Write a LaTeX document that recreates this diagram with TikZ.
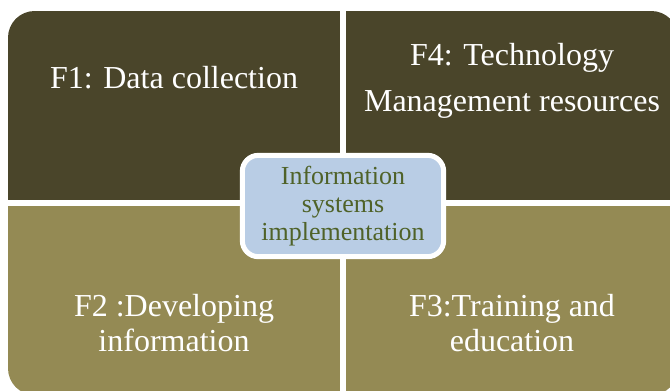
\documentclass[tikz,border=0pt]{standalone}
\usepackage{fontspec}
\setmainfont{Liberation Serif}
\definecolor{darkolive}{HTML}{4A452A}
\definecolor{lightolive}{HTML}{948A54}
\definecolor{hubblue}{HTML}{B9CDE5}
\definecolor{hubgreen}{HTML}{4F6228}
\begin{document}
\begin{tikzpicture}[x=0.75pt, y=-0.75pt,
    facet/.style={text=white, align=center, font=\fontsize{24}{34.5}\selectfont},
    facetlow/.style={facet, font=\fontsize{24}{26}\selectfont},
    hub/.style={draw=white, line width=3.75pt, fill=hubblue, rounded corners=12pt,
        minimum width=151pt, minimum height=76pt, inner sep=0pt, align=center,
        text=hubgreen, font=\fontsize{19.5}{21}\selectfont}]
    \useasboundingbox (0,0) rectangle (670,390);

    % the four parts, cut by white gaps
    \begin{scope}
        \clip[rounded corners=20pt] (8,11) rectangle (678,395);
        \fill[darkolive] (8,11) rectangle (340,200);
        \fill[darkolive] (346,11) rectangle (678,200);
        \fill[lightolive] (8,206) rectangle (340,395);
        \fill[lightolive] (346,206) rectangle (678,395);
    \end{scope}

    \node[facet] (f1) at (174,78) {F1: Data collection};
    \node[facet] (f4) at (512,81) {F4: Technology\\Management resources};
    \node[facetlow] (f2) at (174,323) {F2 :Developing\\information};
    \node[facetlow] (f3) at (512,323) {F3:Training and\\education};

    \node[hub] (is) at (343,206) {Information\\systems\\implementation};
\end{tikzpicture}
\end{document}
